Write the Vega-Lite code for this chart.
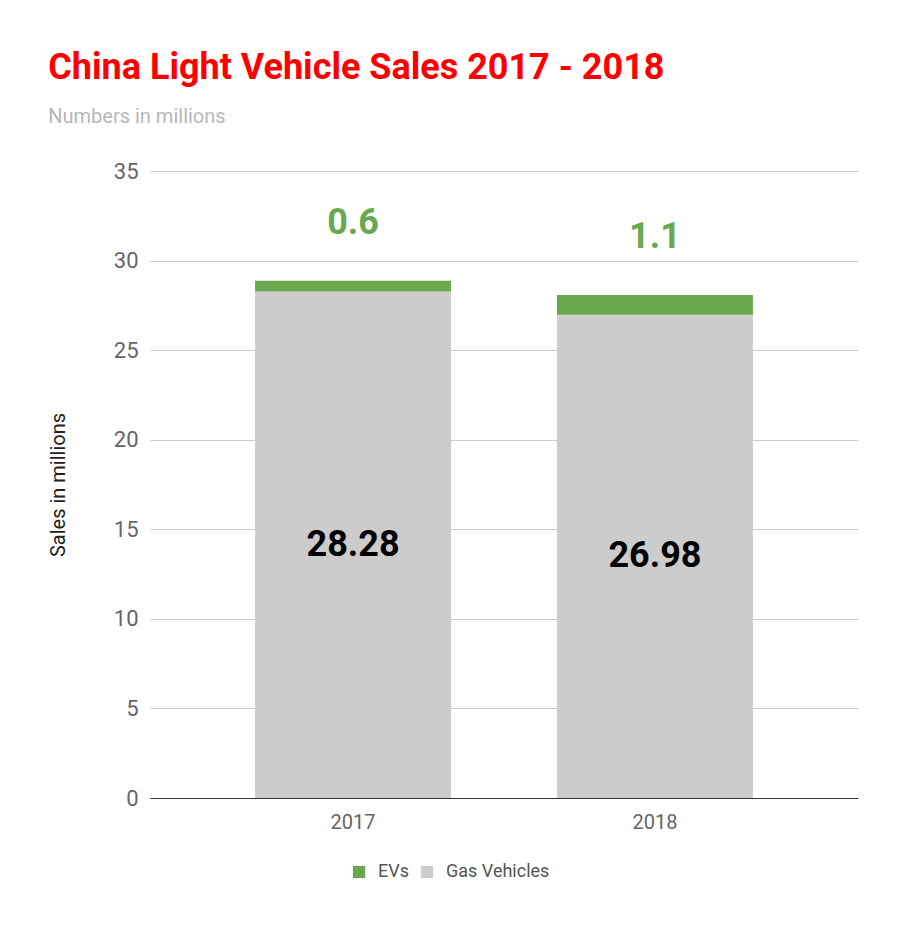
{
  "$schema": "https://vega.github.io/schema/vega-lite/v6.json",
  "width": 708,
  "height": 627,
  "padding": {"left": 48, "top": 50, "right": 45, "bottom": 30},
  "background": "white",
  "config": {
    "font": "Roboto",
    "view": {"stroke": null}
  },
  "title": {
    "text": "China Light Vehicle Sales 2017 - 2018",
    "subtitle": "Numbers in millions",
    "anchor": "start",
    "frame": "bounds",
    "font": "Roboto",
    "fontSize": 36,
    "fontWeight": "bold",
    "color": "#ff0000",
    "subtitleFont": "Roboto",
    "subtitleFontSize": 20,
    "subtitleColor": "#b7b7b7",
    "subtitlePadding": 20,
    "offset": 32
  },
  "data": {
    "values": [
      {"year": "2017", "type": "Gas Vehicles", "value": 28.28},
      {"year": "2017", "type": "EVs", "value": 0.6},
      {"year": "2018", "type": "Gas Vehicles", "value": 26.98},
      {"year": "2018", "type": "EVs", "value": 1.1}
    ]
  },
  "encoding": {
    "x": {
      "field": "year",
      "type": "nominal",
      "scale": {"paddingInner": 0.351, "paddingOuter": 0.348},
      "axis": {
        "title": null,
        "labelAngle": 0,
        "labelFontSize": 20,
        "labelColor": "#666666",
        "labelPadding": 14,
        "ticks": false,
        "domainColor": "#333333",
        "domainWidth": 1
      }
    }
  },
  "layer": [
    {
      "mark": {"type": "bar"},
      "encoding": {
        "y": {
          "field": "value",
          "type": "quantitative",
          "stack": "zero",
          "scale": {"domain": [0, 35], "nice": false},
          "axis": {
            "title": "Sales in millions",
            "titleFontSize": 20,
            "titleFontWeight": "normal",
            "titleColor": "#222222",
            "titlePadding": 45,
            "values": [0, 5, 10, 15, 20, 25, 30, 35],
            "labelFontSize": 22,
            "labelColor": "#666666",
            "labelPadding": 12,
            "ticks": false,
            "domain": false,
            "gridColor": "#cccccc"
          }
        },
        "color": {
          "field": "type",
          "type": "nominal",
          "scale": {"domain": ["EVs", "Gas Vehicles"], "range": ["#6aa84f", "#cccccc"]},
          "legend": {
            "title": null,
            "orient": "none",
            "legendX": 200,
            "legendY": 692,
            "direction": "horizontal",
            "symbolType": "square",
            "symbolSize": 150,
            "labelFontSize": 18,
            "labelColor": "#555555",
            "labelOffset": 10,
            "columnPadding": 9
          }
        },
        "order": {"field": "type", "sort": "descending"}
      }
    },
    {
      "transform": [
        {"stack": "value", "groupby": ["year"], "sort": [{"field": "type", "order": "descending"}], "as": ["lo", "hi"]},
        {"filter": "datum.type == 'EVs'"}
      ],
      "mark": {"type": "text", "fontSize": 36, "fontWeight": "bold", "color": "#6aa84f", "baseline": "middle", "dy": -58},
      "encoding": {
        "y": {"field": "hi", "type": "quantitative", "scale": {"domain": [0, 35], "nice": false}, "axis": null},
        "text": {"field": "value", "type": "quantitative", "format": ".1f"}
      }
    },
    {
      "transform": [{"filter": "datum.type == 'Gas Vehicles'"}],
      "mark": {"type": "text", "fontSize": 36, "fontWeight": "bold", "color": "#000000", "baseline": "middle"},
      "encoding": {
        "y": {"field": "value", "type": "quantitative", "scale": {"domain": [0, 70], "nice": false}, "axis": null},
        "text": {"field": "value", "type": "quantitative", "format": ".2f"}
      }
    }
  ],
  "resolve": {"scale": {"y": "independent"}}
}
